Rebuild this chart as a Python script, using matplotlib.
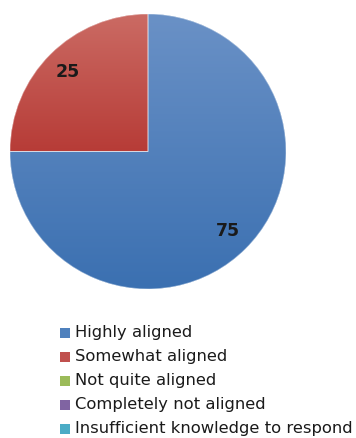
import numpy as np
import matplotlib
matplotlib.use("Agg")
import matplotlib.pyplot as plt
import matplotlib.patches as patches
from matplotlib.colors import LinearSegmentedColormap

categories = ["Highly aligned", "Somewhat aligned", "Not quite aligned",
              "Completely not aligned", "Insufficient knowledge to respond"]
values = [75, 25, 0, 0, 0]
colors = ["#4F81BD", "#C0504D", "#9BBB59", "#8064A2", "#4BACC6"]
# light (top) -> dark (bottom) shading for each slice
shades = [("#6A91C6", "#3B70B1"), ("#CB6B64", "#B73C37"),
          ("#9BBB59", "#9BBB59"), ("#8064A2", "#8064A2"), ("#4BACC6", "#4BACC6")]

fig = plt.figure(figsize=(3.56, 4.38), dpi=100)
W, H = 356, 438

# pie area: circle from x=10..286, y=14..289 (pixels from top)
ax = fig.add_axes([10 / W, (H - 289) / H, 276 / W, 275 / H])
ax.set_xlim(-1, 1)
ax.set_ylim(-1, 1)
ax.set_aspect("equal")
ax.axis("off")

wedges, _ = ax.pie(values, colors=colors, startangle=90, counterclock=False,
                   radius=1, wedgeprops=dict(linewidth=0))

for wedge, val, (top, bot) in zip(wedges, values, shades):
    if val <= 0:
        continue
    ext = wedge.get_path().get_extents()
    cmap = LinearSegmentedColormap.from_list("s", [top, bot])
    grad = np.linspace(0, 1, 256).reshape(-1, 1)
    im = ax.imshow(grad, cmap=cmap, aspect="auto", origin="upper",
                   extent=[ext.x0, ext.x1, ext.y0, ext.y1], zorder=2)
    im.set_clip_path(wedge)
    # thin light seam along the slice edges
    outline = patches.Wedge(wedge.center, wedge.r, wedge.theta1, wedge.theta2,
                            facecolor="none", edgecolor=(1, 1, 1, 0.45),
                            linewidth=0.7, zorder=3)
    ax.add_patch(outline)
    mid = np.deg2rad((wedge.theta1 + wedge.theta2) / 2)
    ax.text(0.82 * np.cos(mid), 0.82 * np.sin(mid), f"{val}",
            ha="center", va="center", fontsize=12.5, fontweight="bold",
            color="#1A1A1A", zorder=4)

ax.set_xlim(-1, 1)
ax.set_ylim(-1, 1)

# legend drawn row by row
y0, step = 332.5, 24.1
for i, (name, c) in enumerate(zip(categories, colors)):
    yc = y0 + i * step
    fig.add_artist(patches.Rectangle((60 / W, (H - yc - 5) / H), 10 / W, 10 / H,
                                     transform=fig.transFigure, facecolor=c,
                                     edgecolor="none"))
    fig.text(75 / W, (H - yc) / H, name, ha="left", va="center",
             fontsize=11.8, color="#1A1A1A", family="DejaVu Sans")

fig.savefig("out.png", dpi=100)
